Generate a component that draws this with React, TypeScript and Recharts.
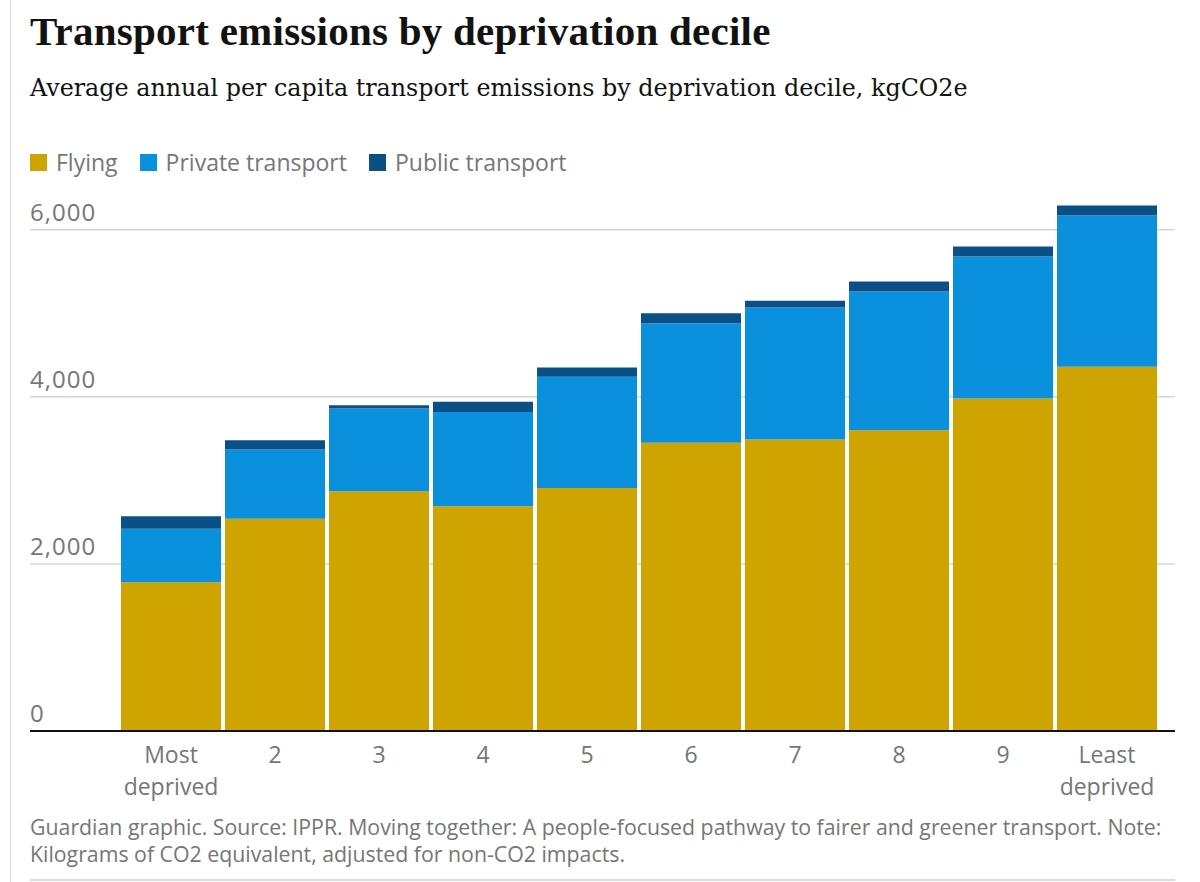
import React from 'react';
import { BarChart, Bar, XAxis, YAxis, CartesianGrid, Legend } from 'recharts';

const deciles = ['Most deprived', '2', '3', '4', '5', '6', '7', '8', '9', 'Least deprived'];
const flying = [1780, 2540, 2870, 2690, 2910, 3450, 3490, 3600, 3980, 4360];
const privateTransport = [640, 830, 990, 1130, 1330, 1430, 1580, 1660, 1700, 1810];
const publicTransport = [150, 110, 40, 120, 110, 120, 80, 120, 120, 120];
const yTicks = [0, 2000, 4000, 6000];

const data = deciles.map((d, i) => ({
  decile: d,
  flying: flying[i],
  private: privateTransport[i],
  public: publicTransport[i],
}));

const SANS = '"Open Sans", "Noto Sans", sans-serif';
const GREY = '#767676';
const C_FLY = '#cfa300';
const C_PRIV = '#0a90dd';
const C_PUB = '#0a5087';

const YTick = (props: any) => {
  const { y, payload } = props;
  return (
    <text x={30} y={y - 9} fill={GREY} fontSize={24} letterSpacing={1} fontFamily={SANS} textAnchor="start">
      {Number(payload.value).toLocaleString('en-US')}
    </text>
  );
};

const XTick = (props: any) => {
  const { x, y, payload } = props;
  const parts = String(payload.value).split(' ');
  return (
    <text x={x} y={y} fill={GREY} fontSize={23} fontFamily={SANS} textAnchor="middle">
      {parts.map((p, i) => (
        <tspan key={i} x={x} dy={i === 0 ? 24 : 32}>
          {p}
        </tspan>
      ))}
    </text>
  );
};

const LegendContent = (props: any) => {
  const { payload } = props;
  return (
    <div style={{ display: 'flex', alignItems: 'center', fontFamily: SANS, fontSize: 23, color: GREY, lineHeight: '30px', whiteSpace: 'nowrap' }}>
      {(payload || []).map((e: any, i: number) => (
        <div key={i} style={{ display: 'flex', alignItems: 'center', marginRight: 22 }}>
          <span style={{ width: 17, height: 17, background: e.color, display: 'inline-block', marginRight: 9 }} />
          <span>{e.value}</span>
        </div>
      ))}
    </div>
  );
};

export default function App() {
  return (
    <div style={{ position: 'absolute', left: 0, top: 0, width: 1200, height: 882, background: '#fff', overflow: 'hidden' }}>
      <div style={{ position: 'absolute', left: 10, top: 0, width: 1, height: 882, background: '#dcdcdc' }} />
      <div
        style={{
          position: 'absolute', left: 30, top: 7, fontFamily: '"Liberation Serif", serif', fontWeight: 700,
          fontSize: 41, color: '#121212', letterSpacing: 0.25, whiteSpace: 'nowrap',
        }}
      >
        Transport emissions by deprivation decile
      </div>
      <div
        style={{
          position: 'absolute', left: 30, top: 74, fontFamily: '"DejaVu Serif", serif',
          fontSize: 23.8, color: '#121212', whiteSpace: 'nowrap',
        }}
      >
        Average annual per capita transport emissions by deprivation decile, kgCO2e
      </div>
      <div style={{ position: 'absolute', left: 0, top: 0 }}>
        <BarChart width={1200} height={882} data={data} margin={{ top: 188, right: 25, bottom: 81, left: 30 }}>
          <CartesianGrid horizontal vertical={false} horizontalValues={yTicks} stroke="#d6d6d6" strokeWidth={1.5} />
          <XAxis
            dataKey="decile"
            interval={0}
            height={70}
            padding={{ left: 89, right: 16 }}
            axisLine={{ stroke: '#121212', strokeWidth: 2 }}
            tickLine={false}
            tick={<XTick />}
          />
          <YAxis
            width={1}
            mirror
            domain={[0, 6500]}
            ticks={yTicks}
            interval={0}
            axisLine={false}
            tickLine={false}
            tick={<YTick />}
          />
          <Legend
            layout="horizontal"
            verticalAlign="middle"
            align="left"
            content={<LegendContent />}
            wrapperStyle={{ position: 'absolute', top: 147, left: 30, width: 0, height: 0, overflow: 'visible' }}
          />
          <Bar dataKey="flying" name="Flying" stackId="a" fill={C_FLY} barSize={100} isAnimationActive={false} />
          <Bar dataKey="private" name="Private transport" stackId="a" fill={C_PRIV} barSize={100} isAnimationActive={false} />
          <Bar dataKey="public" name="Public transport" stackId="a" fill={C_PUB} barSize={100} isAnimationActive={false} />
        </BarChart>
      </div>
      <div
        style={{
          position: 'absolute', left: 30, top: 813, width: 1160, fontFamily: SANS, fontSize: 21.3,
          lineHeight: '27px', color: GREY,
        }}
      >
        Guardian graphic. Source: IPPR. Moving together: A people-focused pathway to fairer and greener transport. Note: Kilograms of CO2 equivalent, adjusted for non-CO2 impacts.
      </div>
      <div style={{ position: 'absolute', left: 30, top: 879, width: 1145, height: 2, background: '#dcdcdc' }} />
    </div>
  );
}
